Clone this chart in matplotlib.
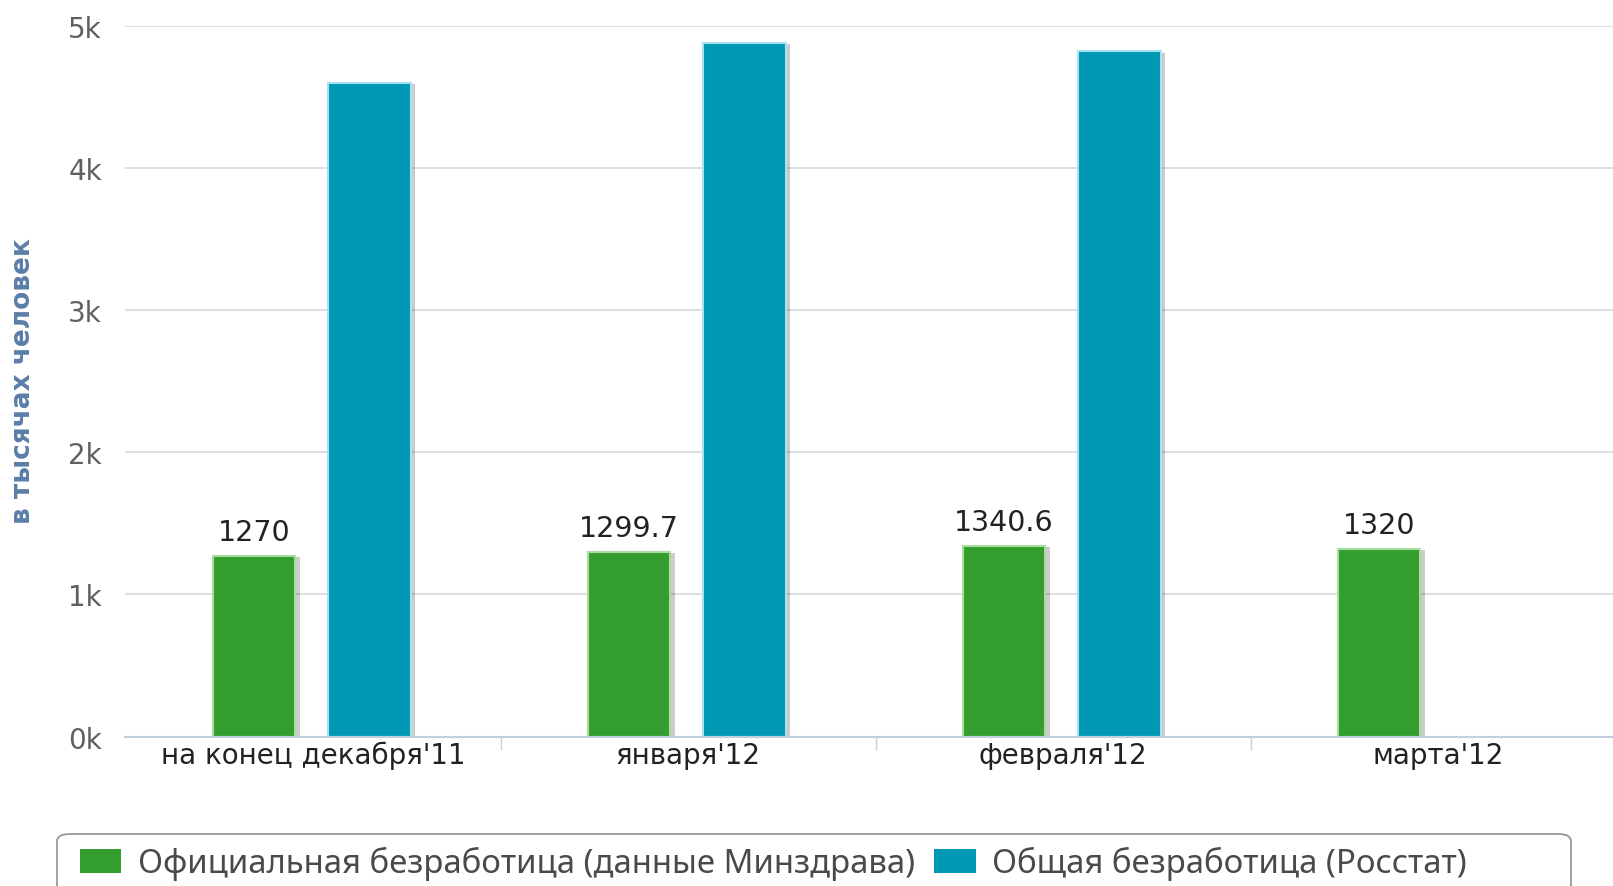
import numpy as np
import matplotlib.pyplot as plt
import matplotlib.patheffects as pe
from matplotlib.patches import FancyBboxPatch
from matplotlib.ticker import FixedLocator, FuncFormatter

categories = ["на конец декабря'11", "января'12", "февраля'12", "марта'12"]
official = [1270, 1299.7, 1340.6, 1320]
official_labels = ["1270", "1299.7", "1340.6", "1320"]
total = [4600, 4880, 4820, np.nan]
series_names = [
    "Официальная безработица (данные Минздрава)",
    "Общая безработица (Росстат)",
]

GREEN = "#339e2d"
BLUE = "#0099b4"


def main() -> None:
    plt.rcParams["font.family"] = ["DejaVu Sans"]
    fig = plt.figure(figsize=(16.13, 8.87), dpi=100)
    ax = fig.add_axes([0.0778, 0.1684, 0.93, 0.8015])

    x = np.arange(len(categories))
    width = 0.22
    shadow = [pe.SimplePatchShadow(offset=(3, -1), shadow_rgbFace="#000000", alpha=0.2), pe.Normal()]

    b1 = ax.bar(x - 0.157, official, width, color=GREEN, edgecolor="#a8dca0",
                linewidth=1.5, label=series_names[0], zorder=3)
    b2 = ax.bar(x + 0.151, total, width, color=BLUE, edgecolor="#a6e2ef",
                linewidth=1.5, label=series_names[1], zorder=3)
    for bar in list(b1) + list(b2):
        bar.set_path_effects(shadow)

    for xi, v, lab in zip(x, official, official_labels):
        ax.annotate(lab, (xi - 0.157, v), xytext=(0, 7), textcoords="offset points",
                    ha="center", va="bottom", fontsize=20.5, color="#222222")

    ax.set_xlim(-0.5, 3.5)
    ax.set_ylim(0, 5000)

    ax.yaxis.set_major_locator(FixedLocator([0, 1000, 2000, 3000, 4000, 5000]))
    ax.yaxis.set_major_formatter(FuncFormatter(lambda v, p: f"{int(v // 1000)}k"))
    ax.grid(axis="y", color="#d8d8d8", linewidth=1.2, zorder=0)
    ax.tick_params(axis="y", length=0, pad=17, labelsize=20, labelcolor="#606060")

    ax.set_xticks(x)
    ax.set_xticklabels(categories)
    ax.tick_params(axis="x", length=0, pad=3, labelsize=20, labelcolor="#222222")
    ax.set_xticks([0.5, 1.5, 2.5], minor=True)
    ax.tick_params(axis="x", which="minor", length=9, width=1, color="#c0d0e0")

    for s in ["top", "right", "left"]:
        ax.spines[s].set_visible(False)
    ax.spines["bottom"].set_color("#c0d0e0")
    ax.spines["bottom"].set_linewidth(1.5)
    ax.spines["bottom"].set_zorder(4)

    fig.text(0.0143, 0.5705, "в тысячах человек", rotation=90, ha="center", va="center",
             fontsize=19, fontweight="bold", color="#5a7ea8")

    # legend frame is wider than its content and cut by the bottom edge
    W, H = 1613, 887
    frame = FancyBboxPatch((57 / W, -30 / H), (1571 - 57) / W, (30 + 887 - 835) / H,
                           boxstyle="round,pad=0,rounding_size=0.008",
                           transform=fig.transFigure, facecolor="white",
                           edgecolor="#909090", linewidth=1.2)
    fig.add_artist(frame)

    leg = fig.legend(handles=[b1, b2], loc="upper left", bbox_to_anchor=(80 / W, 1 - 847 / H),
                     ncol=2, frameon=False, handlelength=1.25, handleheight=0.75,
                     handletextpad=0.5, columnspacing=0.6, borderpad=0, borderaxespad=0,
                     labelcolor="#4a4a4a", prop={"family": "Noto Sans", "size": 23.7})
    for h in leg.legend_handles:
        h.set_edgecolor("none")
        h.set_path_effects([])

    fig.savefig("out.png", dpi=100)


if __name__ == "__main__":
    main()
